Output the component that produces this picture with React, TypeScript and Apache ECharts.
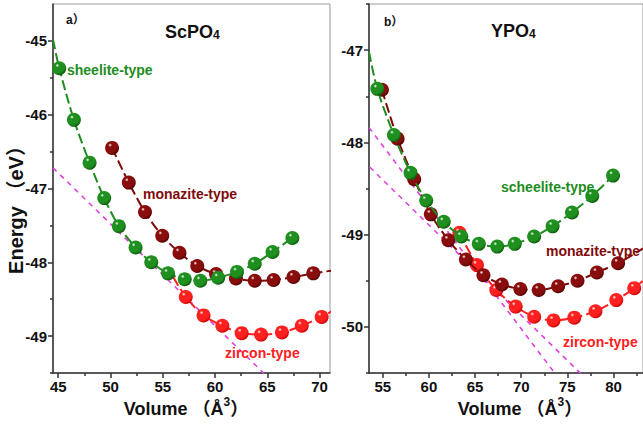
import React, { useEffect, useRef } from "react";
import * as echarts from "echarts";

// ---------- Panel a) ScPO4 ----------
const aSheelite = [
  [45.1, -45.37], [46.5, -46.07], [48.0, -46.65], [49.4, -47.13], [50.8, -47.51],
  [52.4, -47.8], [53.9, -48.0], [55.5, -48.15], [57.1, -48.23], [58.6, -48.25],
  [60.3, -48.21], [62.1, -48.13], [63.8, -48.02], [65.5, -47.86], [67.4, -47.67],
];
const aSheeliteStart = [44.5, -44.98];
const aMonazite = [
  [50.15, -46.45], [51.75, -46.92], [53.3, -47.32], [54.95, -47.64], [56.6, -47.87],
  [58.3, -48.05], [60.1, -48.16], [62.0, -48.22], [63.8, -48.25], [65.6, -48.24],
  [67.5, -48.2], [69.4, -48.15],
];
const aMonaziteEnd = [71.3, -48.11];
const aZircon = [
  [57.2, -48.47], [58.9, -48.72], [60.7, -48.86], [62.55, -48.96], [64.4, -48.98],
  [66.4, -48.95], [68.3, -48.86], [70.2, -48.74],
];
const aZirconStart = [56.0, -48.2];
const aZirconEnd = [71.3, -48.65];
const aTangent = [[44.5, -46.72], [65.0, -49.55]];

// ---------- Panel b) YPO4 ----------
const bScheelite = [
  [54.4, -47.42], [56.2, -47.92], [58.0, -48.33], [59.7, -48.63], [61.6, -48.86],
  [63.5, -49.02], [65.4, -49.1], [67.4, -49.13], [69.3, -49.1], [71.4, -49.02],
  [73.4, -48.91], [75.5, -48.76], [77.7, -48.58], [79.95, -48.36],
];
const bScheeliteStart = [53.5, -47.02];
const bMonazite = [
  [54.9, -47.43], [56.6, -47.96], [58.4, -48.4], [60.2, -48.78], [62.1, -49.06],
  [64.0, -49.27], [65.9, -49.44], [67.9, -49.54], [69.9, -49.59], [71.9, -49.6],
  [74.0, -49.56], [76.1, -49.5], [78.2, -49.41], [80.5, -49.31],
];
const bMonaziteEnd = [83.2, -49.15];
const bZircon = [
  [63.3, -48.98], [65.2, -49.33], [67.3, -49.6], [69.4, -49.78], [71.4, -49.89],
  [73.5, -49.93], [75.75, -49.9], [78.05, -49.83], [80.3, -49.71], [82.25, -49.58],
];
const bZirconEnd = [83.4, -49.48];
const bTangent1 = [[53.5, -47.84], [74.0, -50.55]];
const bTangent2 = [[53.6, -48.27], [76.5, -50.51]];

// ---------- Ticks ----------
const aXMajor = [45, 50, 55, 60, 65, 70];
const aXMinor = [47.5, 52.5, 57.5, 62.5, 67.5];
const aYMajor = [-45, -46, -47, -48, -49];
const aYMinor = [-45.5, -46.5, -47.5, -48.5, -49.5];
const bXMajor = [55, 60, 65, 70, 75, 80];
const bXMinor = [57.5, 62.5, 67.5, 72.5, 77.5, 82.5];
const bYMajor = [-47, -48, -49, -50];
const bYMinor = [-46.5, -47.5, -48.5, -49.5, -50.5];

const FONT = "'Liberation Sans', Arial, 'Noto Sans CJK SC', sans-serif";
const GREEN = "#1e8c1e";
const MAROON = "#800a0a";
const RED = "#ff2020";
const MAGENTA = "#e040e0";

function ball(base: string, dark: string) {
  return new echarts.graphic.RadialGradient(0.36, 0.3, 0.75, [
    { offset: 0, color: "#ffffff" },
    { offset: 0.18, color: base },
    { offset: 0.7, color: base },
    { offset: 1, color: dark },
  ]);
}

function curve(
  name: string,
  pts: number[][],
  start: number[] | null,
  end: number[] | null,
  color: string,
  base: string,
  dark: string,
  axis: number,
  z: number
) {
  const data: any[] = [];
  if (start) data.push({ value: start, symbol: "none" });
  pts.forEach((p) => data.push(p));
  if (end) data.push({ value: end, symbol: "none" });
  return {
    name,
    type: "line",
    xAxisIndex: axis,
    yAxisIndex: axis,
    data,
    smooth: 0.3,
    symbol: "circle",
    symbolSize: 14,
    showAllSymbol: true,
    clip: true,
    z,
    lineStyle: { color, width: 2, type: [10, 4] },
    itemStyle: { color: ball(base, dark), borderWidth: 0 },
  };
}

function tangent(pts: number[][], axis: number) {
  return {
    type: "line",
    xAxisIndex: axis,
    yAxisIndex: axis,
    data: pts,
    symbol: "none",
    clip: true,
    z: 1,
    lineStyle: { color: MAGENTA, width: 1.6, type: [5, 5] },
  };
}

function xAxes(grid: number, min: number, max: number, major: number[], minor: number[]) {
  return [
    {
      type: "value", gridIndex: grid, min, max, position: "bottom",
      axisLine: { show: true, onZero: false, lineStyle: { color: "#333", width: 1.5 } },
      axisTick: { show: true, customValues: major, length: 5, lineStyle: { color: "#333", width: 1.5 } },
      axisLabel: { customValues: major, fontSize: 15, fontWeight: "bold", color: "#111", margin: 6, fontFamily: FONT },
      splitLine: { show: false },
    },
    {
      type: "value", gridIndex: grid, min, max, position: "bottom",
      axisLine: { show: false, onZero: false },
      axisTick: { show: true, customValues: minor, length: 3, lineStyle: { color: "#333", width: 1.5 } },
      axisLabel: { show: false },
      splitLine: { show: false },
    },
  ];
}

function yAxes(grid: number, min: number, max: number, major: number[], minor: number[]) {
  return [
    {
      type: "value", gridIndex: grid, min, max, position: "left",
      axisLine: { show: true, onZero: false, lineStyle: { color: "#333", width: 1.5 } },
      axisTick: { show: true, customValues: major, length: 5, lineStyle: { color: "#333", width: 1.5 } },
      axisLabel: { customValues: major, fontSize: 15, fontWeight: "bold", color: "#111", margin: 6, fontFamily: FONT },
      splitLine: { show: false },
    },
    {
      type: "value", gridIndex: grid, min, max, position: "left",
      axisLine: { show: false, onZero: false },
      axisTick: { show: true, customValues: minor, length: 3, lineStyle: { color: "#333", width: 1.5 } },
      axisLabel: { show: false },
      splitLine: { show: false },
    },
  ];
}

function label(text: string, x: number, y: number, color: string, size = 14) {
  return {
    type: "text", x, y, z: 100,
    style: { text, fill: color, font: `bold ${size}px ${FONT}`, verticalAlign: "middle", align: "left" },
  };
}

export default function App() {
  const ref = useRef<HTMLDivElement>(null);
  useEffect(() => {
    if (!ref.current) return;
    const chart = echarts.init(ref.current, null, { renderer: "svg" });
    const option: any = {
      animation: false,
      backgroundColor: "#ffffff",
      grid: [
        { left: 53, top: 4, width: 277, height: 369, show: true, borderColor: "#999", borderWidth: 1 },
        { left: 369, top: 4, width: 283, height: 369, show: true, borderColor: "#999", borderWidth: 1 },
      ],
      xAxis: [
        ...xAxes(0, 44.5, 71, aXMajor, aXMinor),
        ...xAxes(1, 53.5, 83.2, bXMajor, bXMinor),
      ],
      yAxis: [
        ...yAxes(0, -49.5, -44.5, aYMajor, aYMinor),
        ...yAxes(1, -50.5, -46.5, bYMajor, bYMinor),
      ],
      series: [
        tangent(aTangent, 0),
        curve("zircon-type", aZircon, aZirconStart, aZirconEnd, RED, RED, "#c00000", 0, 2),
        curve("monazite-type", aMonazite, null, aMonaziteEnd, MAROON, "#8a0d0d", "#4a0000", 0, 3),
        curve("sheelite-type", aSheelite, aSheeliteStart, null, GREEN, "#1f8f1f", "#0a5208", 0, 4),
        tangent(bTangent1, 2),
        tangent(bTangent2, 2),
        curve("zircon-type", bZircon, null, bZirconEnd, RED, RED, "#c00000", 2, 2),
        curve("monazite-type", bMonazite, null, bMonaziteEnd, MAROON, "#8a0d0d", "#4a0000", 2, 3),
        curve("scheelite-type", bScheelite, bScheeliteStart, null, GREEN, "#1f8f1f", "#0a5208", 2, 4),
      ],
      graphic: [
        {
          type: "text", x: 16, y: 205, rotation: Math.PI / 2, z: 100,
          style: { text: "Energy （eV）", fill: "#111", font: `bold 20px ${FONT}`, align: "center", verticalAlign: "middle" },
        },
        {
          type: "text", x: 186, y: 409, z: 100,
          style: {
            text: "Volume （Å{sup|3}）", fill: "#111", font: `bold 18px ${FONT}`, align: "center", verticalAlign: "middle",
            rich: { sup: { fontSize: 12, fontWeight: "bold", fontFamily: FONT, verticalAlign: "top", lineHeight: 26 } },
          },
        },
        {
          type: "text", x: 520, y: 409, z: 100,
          style: {
            text: "Volume （Å{sup|3}）", fill: "#111", font: `bold 18px ${FONT}`, align: "center", verticalAlign: "middle",
            rich: { sup: { fontSize: 12, fontWeight: "bold", fontFamily: FONT, verticalAlign: "top", lineHeight: 26 } },
          },
        },
        label("a）", 66, 20, "#111", 12),
        label("b）", 384, 22, "#111", 12),
        {
          type: "text", x: 165, y: 32, z: 100,
          style: {
            text: "ScPO{sub|4}", fill: "#111", font: `bold 18px ${FONT}`, align: "left", verticalAlign: "middle",
            rich: { sub: { fontSize: 12, fontWeight: "bold", fontFamily: FONT, verticalAlign: "bottom", lineHeight: 12 } },
          },
        },
        {
          type: "text", x: 491, y: 31, z: 100,
          style: {
            text: "YPO{sub|4}", fill: "#111", font: `bold 18px ${FONT}`, align: "left", verticalAlign: "middle",
            rich: { sub: { fontSize: 12, fontWeight: "bold", fontFamily: FONT, verticalAlign: "bottom", lineHeight: 12 } },
          },
        },
        label("sheelite-type", 67, 70, GREEN),
        label("monazite-type", 143, 194, MAROON),
        label("zircon-type", 225, 353, RED),
        label("scheelite-type", 501, 187, GREEN),
        label("monazite-type", 546, 251, MAROON),
        label("zircon-type", 563, 342, RED),
      ],
    };
    chart.setOption(option);
    return () => chart.dispose();
  }, []);
  return <div ref={ref} style={{ width: 643, height: 424, position: "absolute", left: 0, top: 0 }} />;
}
